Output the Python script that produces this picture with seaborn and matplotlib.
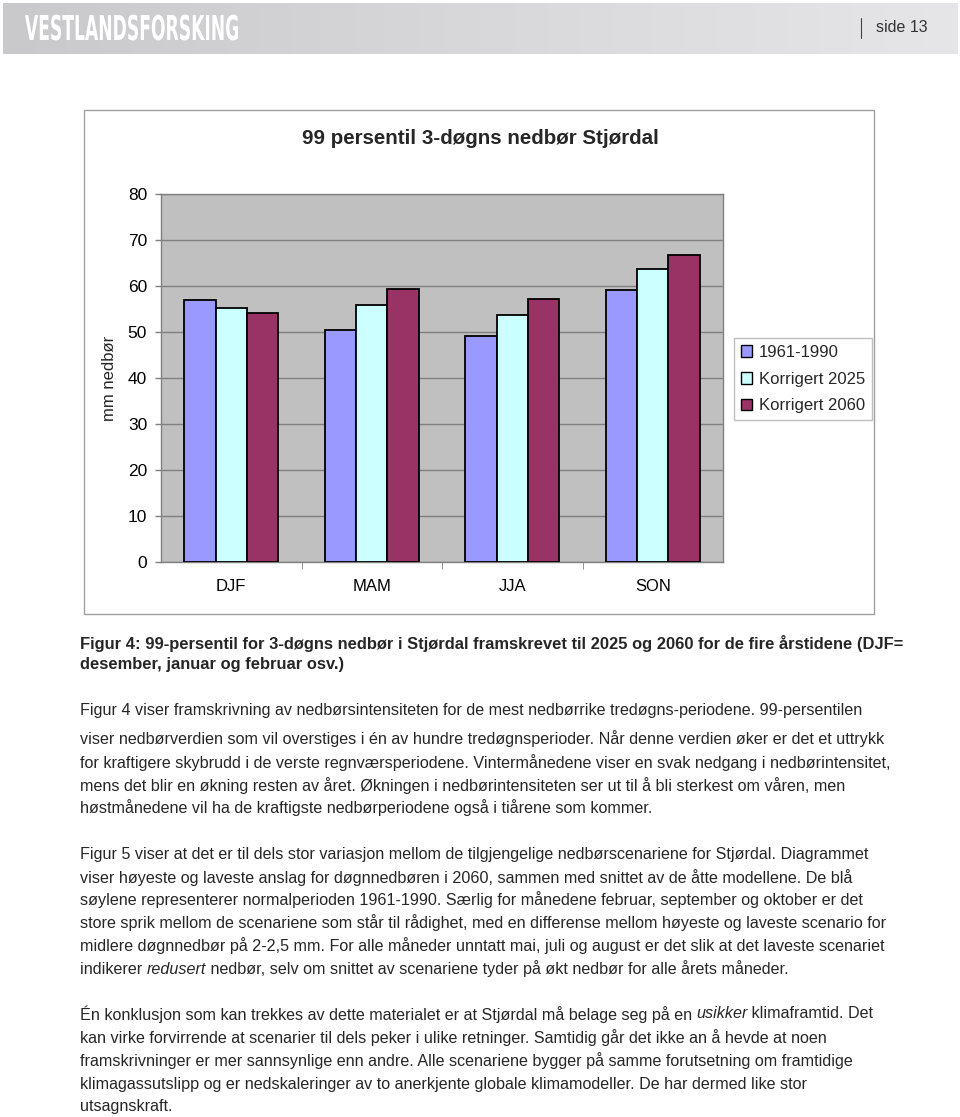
import numpy as np
import pandas as pd
import matplotlib.pyplot as plt
import seaborn as sns
from matplotlib.patches import Rectangle, Patch, PathPatch
from matplotlib.textpath import TextPath
from matplotlib.font_manager import FontProperties
from matplotlib.transforms import Affine2D, IdentityTransform

# ── data ──────────────────────────────────────────────────────────────────────
seasons = ["DJF", "MAM", "JJA", "SON"]
series = ["1961-1990", "Korrigert 2025", "Korrigert 2060"]
v_1961_1990 = [57.0, 50.4, 49.1, 59.1]
v_2025 = [55.2, 55.9, 53.7, 63.7]
v_2060 = [54.1, 59.3, 57.2, 66.7]
y_ticks = [0, 10, 20, 30, 40, 50, 60, 70, 80]
colors = ["#9999FF", "#CCFFFF", "#993366"]

df = pd.DataFrame({
    "season": seasons * 3,
    "serie": np.repeat(series, len(seasons)),
    "value": v_1961_1990 + v_2025 + v_2060,
})

caption = [
    "Figur 4: 99-persentil for 3-døgns nedbør i Stjørdal framskrevet til 2025 og 2060 for de fire årstidene (DJF=",
    "desember, januar og februar osv.)",
]
para1 = [
    "Figur 4 viser framskrivning av nedbørsintensiteten for de mest nedbørrike tredøgns-periodene. 99-persentilen",
    "viser nedbørverdien som vil overstiges i én av hundre tredøgnsperioder. Når denne verdien øker er det et uttrykk",
    "for kraftigere skybrudd i de verste regnværsperiodene. Vintermånedene viser en svak nedgang i nedbørintensitet,",
    "mens det blir en økning resten av året. Økningen i nedbørintensiteten ser ut til å bli sterkest om våren, men",
    "høstmånedene vil ha de kraftigste nedbørperiodene også i tiårene som kommer.",
]
para2 = [
    "Figur 5 viser at det er til dels stor variasjon mellom de tilgjengelige nedbørscenariene for Stjørdal. Diagrammet",
    "viser høyeste og laveste anslag for døgnnedbøren i 2060, sammen med snittet av de åtte modellene. De blå",
    "søylene representerer normalperioden 1961-1990. Særlig for månedene februar, september og oktober er det",
    "store sprik mellom de scenariene som står til rådighet, med en differense mellom høyeste og laveste scenario for",
    "midlere døgnnedbør på 2-2,5 mm. For alle måneder unntatt mai, juli og august er det slik at det laveste scenariet",
    [("indikerer ", "normal"), ("redusert", "italic"),
     (" nedbør, selv om snittet av scenariene tyder på økt nedbør for alle årets måneder.", "normal")],
]
para3 = [
    [("Én konklusjon som kan trekkes av dette materialet er at Stjørdal må belage seg på en ", "normal"),
     ("usikker", "italic"), (" klimaframtid. Det", "normal")],
    "kan virke forvirrende at scenarier til dels peker i ulike retninger. Samtidig går det ikke an å hevde at noen",
    "framskrivninger er mer sannsynlige enn andre. Alle scenariene bygger på samme forutsetning om framtidige",
    "klimagassutslipp og er nedskaleringer av to anerkjente globale klimamodeller. De har dermed like stor",
    "utsagnskraft.",
]

# ── figure ────────────────────────────────────────────────────────────────────
sns.set_style("white")
plt.rcParams["font.family"] = ["Liberation Sans", "DejaVu Sans"]

W, H = 960, 1117
fig = plt.figure(figsize=(W / 100, H / 100), dpi=100)


def fx(x):
    return x / W


def fy(y):
    return 1 - y / H


# header band
hax = fig.add_axes([fx(3), fy(54), fx(954), 51 / H])
grad = np.linspace(0, 1, 256)[None, :]
hax.imshow(grad, aspect="auto", cmap=sns.blend_palette(["#C9C9CC", "#D8D8DB", "#E6E6E8"], as_cmap=True),
           extent=[0, 1, 0, 1])
hax.axis("off")

# condensed logo text, squeezed to the reference width
logo = TextPath((0, 0), "VESTLANDSFORSKING", size=1,
                prop=FontProperties(family="DejaVu Sans", weight="bold"))
ext = logo.get_extents()
sx = 213 / ext.width
sy = 25 / 0.73
fig.add_artist(PathPatch(logo, facecolor="white", edgecolor="none",
                         transform=Affine2D().translate(-ext.x0, 0).scale(sx, sy).translate(25, H - 40)
                         + IdentityTransform()))
fig.text(fx(876), fy(28), "side 13", color="#333333", fontsize=11.5, va="center", ha="left")
fig.add_artist(plt.Line2D([fx(861), fx(861)], [fy(18), fy(38)], color="#444444", lw=0.8))

# chart frame
fig.add_artist(Rectangle((fx(84), fy(614)), fx(790), 504 / H, facecolor="white",
                         edgecolor="#A0A0A0", lw=1.0, transform=fig.transFigure, zorder=0))
fig.text(fx(480), fy(138), "99 persentil 3-døgns nedbør Stjørdal", fontsize=14.8,
         fontweight="bold", ha="center", va="center")

ax = fig.add_axes([fx(161), fy(562), fx(562), 368 / H])
ax.set_facecolor("#C0C0C0")
sns.barplot(data=df, x="season", y="value", hue="serie", palette=colors, width=0.67,
            saturation=1, edgecolor="black", linewidth=1.3, ax=ax, legend=False, zorder=3)
ax.set_ylim(0, 80)
ax.set_yticks(y_ticks)
ax.yaxis.grid(True, color="#808080", lw=1.0, zorder=0)
ax.set_axisbelow(True)
ax.set_xlabel("")
ax.set_ylabel("mm nedbør", fontsize=12, labelpad=8)
ax.tick_params(axis="both", labelsize=12.5, colors="#808080", labelcolor="black")
ax.tick_params(axis="y", length=4, width=1, pad=6, left=True)
ax.tick_params(axis="x", length=0, pad=12, labelsize=12)
ax.set_xticks([0.5, 1.5, 2.5], minor=True)
ax.tick_params(axis="x", which="minor", length=5, color="#808080", bottom=True)
for s in ax.spines.values():
    s.set_color("#808080")
    s.set_linewidth(1.0)

handles = [Patch(facecolor=c, edgecolor="black", lw=1.0, label=l) for c, l in zip(colors, series)]
fig.legend(handles=handles, loc="center", bbox_to_anchor=(fx(803), fy(379)), fontsize=12,
           frameon=True, fancybox=False, edgecolor="#B0B0B0", handlelength=0.7, handleheight=0.7,
           handletextpad=0.4, labelspacing=0.7, borderpad=0.4, borderaxespad=0)

# ── text body ─────────────────────────────────────────────────────────────────
renderer = fig.canvas.get_renderer()
BODY = 11.6
CAP = 11.9


def width_px(s, style):
    t = fig.text(0, 0, s + ".", fontsize=BODY, style=style)
    d = fig.text(0, 0, ".", fontsize=BODY, style=style)
    w = t.get_window_extent(renderer).width - d.get_window_extent(renderer).width
    t.remove()
    d.remove()
    return w


def draw_line(y, line, weight="normal", size=BODY):
    if isinstance(line, str):
        fig.text(fx(80), fy(y), line, fontsize=size, fontweight=weight, va="center", ha="left")
        return
    x = 80.0
    for seg, style in line:
        fig.text(fx(x), fy(y), seg, fontsize=size, style=style, va="center", ha="left")
        x += width_px(seg, style)


for y, line in zip([643, 665], caption):
    draw_line(y, line, weight="bold", size=CAP)
for y, line in zip([710, 739, 763, 786, 808], para1):
    draw_line(y, line)
for y, line in zip([855, 878, 900, 923, 946, 969], para2):
    draw_line(y, line)
for y, line in zip([1014, 1038, 1061, 1084, 1107], para3):
    draw_line(y, line)

fig.savefig("out.png", dpi=100)
